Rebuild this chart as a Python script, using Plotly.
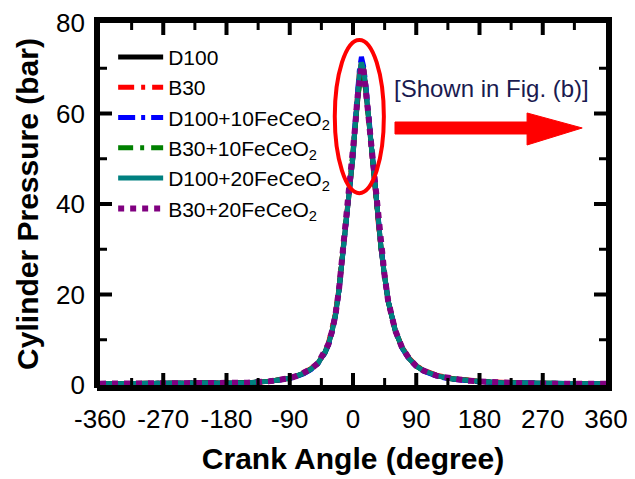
import plotly.graph_objects as go

# Crank angle (degree)
angles = [-360, -300, -240, -180, -150, -120, -100, -90, -80, -70, -60, -50, -40, -35, -30,
          -25, -20, -15, -10, -5, 0, 3, 6, 9, 12, 15, 18, 21, 24, 28, 32, 36, 40, 45, 50,
          60, 70, 80, 90, 100, 120, 140, 160, 180, 210, 240, 270, 300, 330, 360]

# Cylinder pressure (bar)
d100 = [0.3, 0.3, 0.3, 0.4, 0.5, 0.8, 1.2, 1.5, 2.0, 2.6, 3.5, 4.8, 7.2, 9.0, 11.8,
        15.5, 21.0, 28.5, 35.5, 42.0, 50.5, 57.0, 63.0, 68.5, 71.5, 70.0, 66.0, 60.5, 56.0, 49.5,
        42.0, 35.5, 30.0, 24.0, 18.5, 12.0, 8.2, 5.8, 4.2, 3.2, 2.0, 1.4, 1.0, 0.8, 0.5,
        0.4, 0.3, 0.3, 0.3, 0.3]
b30 = [0.3, 0.3, 0.3, 0.4, 0.5, 0.8, 1.2, 1.5, 2.0, 2.7, 3.6, 4.9, 7.3, 9.2, 12.0,
       15.8, 21.3, 28.8, 35.8, 42.5, 51.0, 57.5, 63.5, 68.8, 71.0, 69.8, 66.5, 61.0, 56.5, 49.8,
       42.3, 35.8, 30.2, 24.2, 18.7, 12.2, 8.3, 5.9, 4.3, 3.3, 2.1, 1.5, 1.1, 0.8, 0.6,
       0.4, 0.3, 0.3, 0.3, 0.3]
d100_10 = [0.3, 0.3, 0.3, 0.4, 0.5, 0.8, 1.1, 1.4, 1.9, 2.5, 3.4, 4.7, 7.0, 8.8, 11.5,
           15.2, 20.7, 28.2, 35.2, 41.8, 50.8, 57.8, 64.0, 69.5, 72.5, 70.5, 66.8, 61.5, 56.8, 50.0,
           42.5, 35.8, 30.3, 24.3, 18.8, 12.1, 8.1, 5.7, 4.1, 3.1, 1.9, 1.3, 0.9, 0.7, 0.5,
           0.4, 0.3, 0.3, 0.3, 0.3]
b30_10 = [0.3, 0.3, 0.3, 0.4, 0.5, 0.8, 1.2, 1.5, 2.0, 2.6, 3.5, 4.8, 7.1, 8.9, 11.7,
          15.4, 20.9, 28.4, 35.4, 41.9, 50.2, 56.5, 62.3, 67.5, 70.0, 69.0, 65.8, 60.8, 56.2, 49.6,
          42.1, 35.6, 30.1, 24.1, 18.6, 12.1, 8.2, 5.8, 4.2, 3.2, 2.0, 1.4, 1.0, 0.8, 0.5,
          0.4, 0.3, 0.3, 0.3, 0.3]
d100_20 = [0.3, 0.3, 0.3, 0.4, 0.5, 0.8, 1.2, 1.5, 2.0, 2.6, 3.5, 4.8, 7.2, 9.0, 11.8,
           15.5, 21.0, 28.5, 35.5, 42.1, 50.6, 57.2, 63.3, 68.8, 71.3, 69.8, 66.2, 61.0, 56.3, 49.8,
           42.2, 35.7, 30.1, 24.1, 18.6, 12.1, 8.2, 5.8, 4.2, 3.2, 2.0, 1.4, 1.0, 0.8, 0.5,
           0.4, 0.3, 0.3, 0.3, 0.3]
b30_20 = [0.3, 0.3, 0.3, 0.4, 0.5, 0.8, 1.2, 1.5, 2.0, 2.6, 3.5, 4.8, 7.2, 9.0, 11.8,
          15.5, 21.0, 28.5, 35.5, 42.0, 50.5, 57.0, 63.0, 68.0, 70.5, 69.5, 66.0, 61.0, 56.2, 49.7,
          42.1, 35.6, 30.1, 24.1, 18.6, 12.1, 8.2, 5.8, 4.2, 3.2, 2.0, 1.4, 1.0, 0.8, 0.5,
          0.4, 0.3, 0.3, 0.3, 0.3]

series_names = ["D100", "B30", "D100+10FeCeO<sub>2</sub>", "B30+10FeCeO<sub>2</sub>",
                "D100+20FeCeO<sub>2</sub>", "B30+20FeCeO<sub>2</sub>"]
series_values = [d100, b30, d100_10, b30_10, d100_20, b30_20]
series_colors = ["#000000", "#ff0000", "#0000ff", "#008000", "#008080", "#800080"]
series_dash = ["solid", "16px,7px,4px,7px", "17px,6px,4px,6px", "15px,7px,4px,7px",
               "solid", "dot"]
series_width = [5, 5, 5, 5, 5, 6]

x_ticks = [-360, -270, -180, -90, 0, 90, 180, 270, 360]
y_ticks = [0, 20, 40, 60, 80]

FONT = "Arial, Liberation Sans, sans-serif"
INK = "#000000"

# geometry (px): data area 506 x 362, frame 6 px thick around it
PW, PH, T = 506, 362, 6
FW, FH = PW + 2 * T, PH + 2 * T   # frame subplot size

fig = go.Figure()
for name, vals, col, dash, w in zip(series_names, series_values, series_colors,
                                    series_dash, series_width):
    fig.add_trace(go.Scatter(x=angles, y=vals, mode="lines", name=name,
                             line=dict(color=col, dash=dash, width=w)))

# ---- frame + inside ticks, drawn as line traces on a pixel-scaled overlay subplot ----
x0, x1 = x_ticks[0], x_ticks[-1]
y0, y1 = y_ticks[0], y_ticks[-1]


def fx(v):
    return T + (v - x0) / (x1 - x0) * PW


def fy(v):
    return T + (v - y0) / (y1 - y0) * PH


x_minor = [(a + b) / 2 for a, b in zip(x_ticks[:-1], x_ticks[1:])]
y_minor = [(a + b) / 2 for a, b in zip(y_ticks[:-1], y_ticks[1:])]


def tick_segments(xv, yv, length):
    xs, ys = [], []
    for v in xv:
        p = fx(v)
        xs += [p, p, None, p, p, None]
        ys += [T, T + length, None, FH - T, FH - T - length, None]
    for v in yv:
        p = fy(v)
        xs += [T, T + length, None, FW - T, FW - T - length, None]
        ys += [p, p, None, p, p, None]
    return xs, ys


frame_x = [T / 2, FW - T / 2, FW - T / 2, T / 2, T / 2]
frame_y = [T / 2, T / 2, FH - T / 2, FH - T / 2, T / 2]
fig.add_trace(go.Scatter(x=frame_x, y=frame_y, mode="lines", xaxis="x2", yaxis="y2",
                         line=dict(color=INK, width=T), showlegend=False, hoverinfo="skip"))
mx, my = tick_segments(x_ticks[1:-1], y_ticks[1:-1], 12)
fig.add_trace(go.Scatter(x=mx, y=my, mode="lines", xaxis="x2", yaxis="y2",
                         line=dict(color=INK, width=4), showlegend=False, hoverinfo="skip"))
nx, ny = tick_segments(x_minor, y_minor, 7)
fig.add_trace(go.Scatter(x=nx, y=ny, mode="lines", xaxis="x2", yaxis="y2",
                         line=dict(color=INK, width=3), showlegend=False, hoverinfo="skip"))

axis_common = dict(
    showline=False, ticks="", automargin=False,
    showgrid=False, zeroline=False,
    tickfont=dict(family=FONT, size=26, color=INK),
)

fig.update_layout(
    xaxis=dict(
        domain=[T / FW, 1 - T / FW],
        range=[x0, x1], tickmode="array", tickvals=x_ticks, ticktext=[str(v) for v in x_ticks],
        title=dict(text="<b>Crank Angle (degree)</b>", font=dict(family=FONT, size=30, color=INK),
                   standoff=14),
        ticklabelstandoff=16, **axis_common),
    yaxis=dict(
        domain=[T / FH, 1 - T / FH],
        range=[y0, y1], tickmode="array", tickvals=y_ticks, ticktext=[str(v) for v in y_ticks],
        title=dict(text="<b>Cylinder Pressure (bar)</b>", font=dict(family=FONT, size=30, color=INK),
                   standoff=8),
        ticklabelstandoff=14, **axis_common),
    xaxis2=dict(domain=[0, 1], anchor="y2", range=[0, FW], visible=False, fixedrange=True),
    yaxis2=dict(domain=[0, 1], anchor="x2", range=[0, FH], visible=False, fixedrange=True),
)

# Red ellipse highlighting the peak region
fig.add_shape(type="circle", xref="x domain", yref="y domain",
              x0=0.464, x1=0.561, y0=0.530, y1=0.953,
              line=dict(color="#ff0000", width=4))
# Red arrow
fig.add_shape(type="path", xref="x domain", yref="y domain",
              path="M0.583,0.7265 L0.844,0.7265 L0.844,0.7514 L0.953,0.710 "
                   "L0.844,0.663 L0.844,0.6934 L0.583,0.6934 Z",
              fillcolor="#ff0000", line=dict(color="#ff0000", width=1))
fig.add_annotation(xref="x domain", yref="y domain", x=0.773, y=0.820,
                   xanchor="center", yanchor="middle",
                   text="[Shown in Fig. (b)]", showarrow=False,
                   font=dict(family=FONT, size=24, color="#1a1a50"))

# the page body has an 8px margin, so the figure is 8px smaller than the window
fig.update_layout(
    width=627, height=471,
    margin=dict(l=92 - T, r=29 - T, t=15 - T, b=94 - T, autoexpand=False),
    plot_bgcolor="rgba(0,0,0,0)", paper_bgcolor="#ffffff",
    font=dict(family=FONT, color=INK),
    legend=dict(x=(0.026 * PW + T) / FW, y=(0.962 * PH + T) / FH,
                xanchor="left", yanchor="top",
                bgcolor="rgba(0,0,0,0)", font=dict(family=FONT, size=21, color=INK),
                tracegroupgap=0, itemwidth=45),
    showlegend=True,
)

fig.write_html("out.html")
